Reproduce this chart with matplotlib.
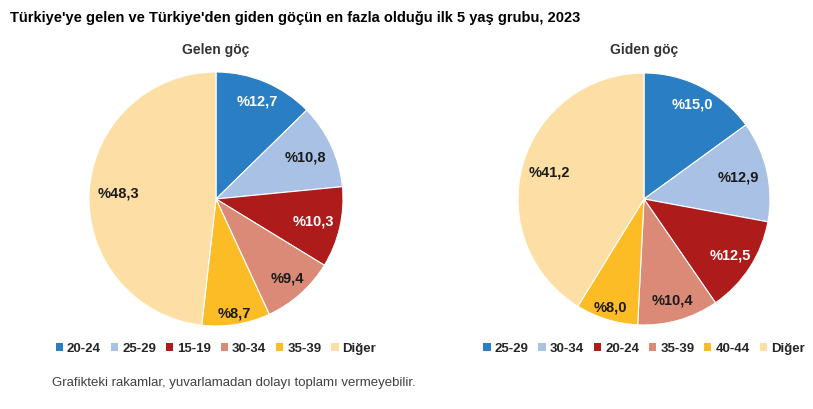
import matplotlib
matplotlib.use("Agg")
import numpy as np
import matplotlib.pyplot as plt
from matplotlib.patches import Patch

plt.rcParams['font.family'] = ['Liberation Sans', 'DejaVu Sans']

title = "Türkiye'ye gelen ve Türkiye'den giden göçün en fazla olduğu ilk 5 yaş grubu, 2023"
footnote = "Grafikteki rakamlar, yuvarlamadan dolayı toplamı vermeyebilir."

gelen_title = "Gelen göç"
gelen_labels = ["20-24", "25-29", "15-19", "30-34", "35-39", "Diğer"]
gelen_values = [12.7, 10.8, 10.3, 9.4, 8.7, 48.3]

giden_title = "Giden göç"
giden_labels = ["25-29", "30-34", "20-24", "35-39", "40-44", "Diğer"]
giden_values = [15.0, 12.9, 12.5, 10.4, 8.0, 41.2]

colors = ["#2a7ec3", "#a8c1e5", "#ad1b1b", "#da8a77", "#fbbc25", "#fddfa6"]
label_colors = ["white", "#1a1a1a", "white", "#1a1a1a", "#1a1a1a", "#1a1a1a"]

# label distance (fraction of radius) for each wedge, mimicking best-fit placement
gelen_label_dist = [0.83, 0.78, 0.79, 0.84, 0.91, 0.77]
giden_label_dist = [0.84, 0.77, 0.82, 0.84, 0.90, 0.78]

W, H = 813, 409
fig = plt.figure(figsize=(W / 100, H / 100), dpi=100)

fig.text(10 / W, 1 - 18 / H, title, fontsize=10.5, fontweight='bold', color='black',
         ha='left', va='center')


def draw(cx, cy, r, values, labels, sub, dists):
    ax = fig.add_axes([(cx - r) / W, 1 - (cy + r) / H, 2 * r / W, 2 * r / H])
    wedges, _ = ax.pie(
        values, colors=colors, startangle=90, counterclock=False,
        wedgeprops=dict(edgecolor='white', linewidth=0.8))
    for w, v, tc, d in zip(wedges, values, label_colors, dists):
        mid = np.deg2rad((w.theta1 + w.theta2) / 2)
        ax.text(d * np.cos(mid), d * np.sin(mid), "%" + f"{v:.1f}".replace('.', ','),
                ha='center', va='center', color=tc, fontsize=10.5, fontweight='bold')
    ax.set_xlim(-1, 1)
    ax.set_ylim(-1, 1)
    ax.set_aspect('equal')
    fig.text(cx / W, 1 - 50 / H, sub, fontsize=10, fontweight='bold', color='#333333',
             ha='center', va='center')
    handles = [Patch(facecolor=c, edgecolor='none') for c in colors]
    leg = fig.legend(handles, labels, loc='center',
                     bbox_to_anchor=(cx / W, 1 - 349 / H),
                     ncol=6, frameon=False, handlelength=0.55, handleheight=0.55,
                     handletextpad=0.3, columnspacing=0.75,
                     prop=dict(size=9.5, weight='bold'))
    for t in leg.get_texts():
        t.set_color('#262626')


draw(216, 199, 127, gelen_values, gelen_labels, gelen_title, gelen_label_dist)
draw(644, 199, 126, giden_values, giden_labels, giden_title, giden_label_dist)

fig.text(52 / W, 1 - 383 / H, footnote, fontsize=9.5, color='#404040', ha='left', va='center')

fig.savefig("out.png", dpi=100, facecolor='white')
